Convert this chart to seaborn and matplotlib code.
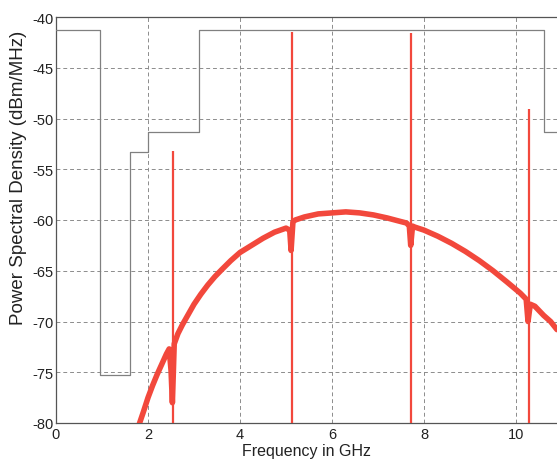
import matplotlib
matplotlib.use("Agg")
import matplotlib.pyplot as plt
import seaborn as sns
import pandas as pd

# ---- data ----
mask_freq = [0.0, 0.96, 0.96, 1.61, 1.61, 1.99, 1.99, 3.10, 3.10, 10.60, 10.60, 11.0]
mask_db = [-41.3, -41.3, -75.3, -75.3, -53.3, -53.3, -51.3, -51.3, -41.3, -41.3, -51.3, -51.3]

curve_freq = [1.78, 1.90, 2.00, 2.10, 2.20, 2.30, 2.40, 2.46, 2.50, 2.53, 2.57, 2.65,
              2.75, 2.90, 3.00, 3.15, 3.30, 3.45, 3.60, 3.80, 4.00, 4.25, 4.50, 4.75,
              5.00, 5.08, 5.11, 5.15, 5.20, 5.40, 5.70, 6.00, 6.30, 6.60, 6.90, 7.20,
              7.45, 7.62, 7.68, 7.71, 7.75, 7.80, 8.00, 8.30, 8.60, 8.90, 9.20, 9.50,
              9.80, 10.09, 10.22, 10.26, 10.31, 10.41, 10.60, 10.75, 10.89]
curve_db = [-80.5, -78.9, -77.5, -76.3, -75.2, -74.2, -73.2, -72.7, -74.8, -78.0, -72.2, -71.2,
            -70.3, -69.1, -68.3, -67.3, -66.4, -65.6, -64.9, -64.0, -63.2, -62.5, -61.8, -61.2,
            -60.8, -61.0, -63.0, -60.2, -60.0, -59.7, -59.4, -59.3, -59.2, -59.3, -59.5, -59.8,
            -60.1, -60.3, -60.6, -62.5, -60.6, -60.7, -61.0, -61.6, -62.3, -63.1, -64.0, -65.0,
            -66.1, -67.2, -67.8, -70.0, -68.3, -68.5, -69.4, -70.0, -70.8]

spike_freq = [2.55, 5.14, 7.72, 10.28]
spike_top = [-53.2, -41.5, -41.6, -49.1]

xticks = [0, 2, 4, 6, 8, 10]
yticks = [-80, -75, -70, -65, -60, -55, -50, -45, -40]

# ---- figure ----
sns.set_theme(style="white")
plt.rcParams["font.family"] = ["Liberation Sans", "DejaVu Sans"]

fig = plt.figure(figsize=(5.57, 4.60), dpi=100)
ax = fig.add_axes([56 / 557, 36 / 460, 501 / 557, 406 / 460])

red = "#f2483c"
gray = "#808080"

mask_df = pd.DataFrame({"f": mask_freq, "p": mask_db})
curve_df = pd.DataFrame({"f": curve_freq, "p": curve_db})

sns.lineplot(data=mask_df, x="f", y="p", sort=False, estimator=None,
             color=gray, linewidth=0.9, ax=ax, zorder=3)
sns.lineplot(data=curve_df, x="f", y="p", sort=False, estimator=None,
             color=red, linewidth=4.0, ax=ax, zorder=4,
             solid_joinstyle="round", solid_capstyle="round")
ax.vlines(spike_freq, -81, spike_top, colors=red, linewidth=1.6, zorder=5)

ax.set_xlim(0, 10.89)
ax.set_ylim(-80, -40)
ax.set_xticks(xticks)
ax.set_yticks(yticks)
ax.set_xticklabels([str(t) for t in xticks])
ax.set_yticklabels([str(t) for t in yticks])

ax.grid(True, color="#8c8c8c", linestyle=(0, (4, 3)), linewidth=0.7)
ax.set_axisbelow(True)

for side in ["left", "top", "bottom"]:
    ax.spines[side].set_color("#555555")
    ax.spines[side].set_linewidth(0.9)
ax.spines["right"].set_visible(False)

ax.tick_params(axis="both", direction="in", length=4, width=0.8, color="#555555",
               labelsize=10.5, labelcolor="#222222", pad=2)
ax.tick_params(axis="x", pad=3)

ax.set_xlabel("Frequency in GHz", fontsize=11.5, color="#222222", labelpad=1)
ax.set_ylabel("Power Spectral Density (dBm/MHz)", fontsize=13.5, color="#222222", labelpad=2)
ax.yaxis.set_label_coords(-0.058, 0.605)

fig.savefig("out.png", dpi=100)
